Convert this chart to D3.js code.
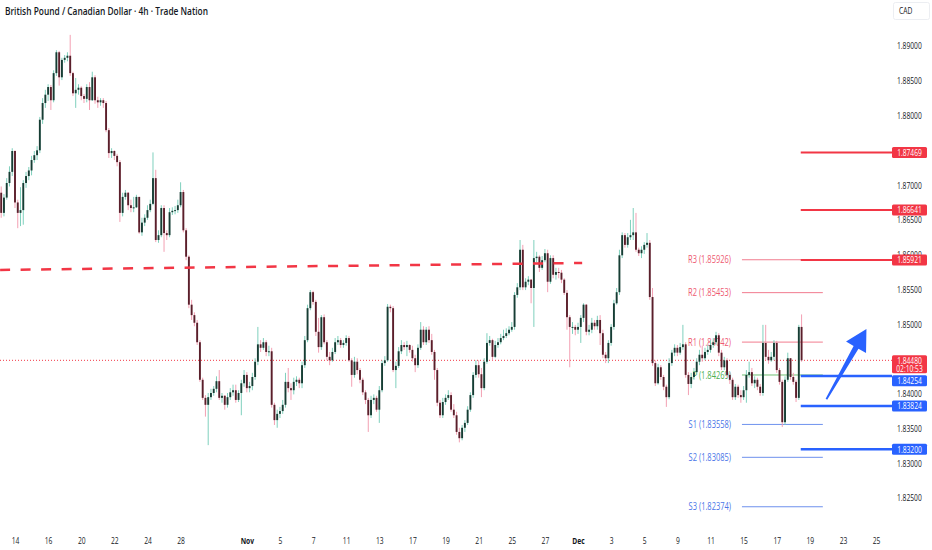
<!DOCTYPE html>
<html lang="en">
<head>
<meta charset="UTF-8">
<title>GBP/CAD 4h</title>
<script src="https://cdn.jsdelivr.net/npm/d3@7"></script>
<style>
    body { margin: 0; background: #fff; }
    svg { display: block; }
    text { font-family: "Open Sans", "Noto Sans", sans-serif; fill: #131722; }
</style>
</head>
<body>
<svg id="chart" width="932" height="550"></svg>
<script>
// ---- data: 4h candles, first bar opens at firstOpen, each next bar opens at previous close
const firstOpen = 1.8689;
const closes = [
    1.8660, 1.8682, 1.8703, 1.8719, 1.8749, 1.8675, 1.8660, 1.8664, 1.8703, 1.8713,
    1.8721, 1.8736, 1.8743, 1.8750, 1.8794, 1.8818, 1.8830, 1.8841, 1.8822, 1.8861,
    1.8891, 1.8855, 1.8880, 1.8883, 1.8886, 1.8861, 1.8832, 1.8837, 1.8840, 1.8828,
    1.8824, 1.8841, 1.8822, 1.8855, 1.8822, 1.8819, 1.8822, 1.8818, 1.8779, 1.8746,
    1.8749, 1.8742, 1.8733, 1.8660, 1.8683, 1.8689, 1.8671, 1.8667, 1.8668, 1.8683,
    1.8632, 1.8646, 1.8653, 1.8664, 1.8673, 1.8710, 1.8621, 1.8628, 1.8667, 1.8631,
    1.8628, 1.8661, 1.8663, 1.8664, 1.8671, 1.8690, 1.8635, 1.8597, 1.8528, 1.8513,
    1.8502, 1.8474, 1.8420, 1.8394, 1.8384, 1.8395, 1.8401, 1.8407, 1.8418, 1.8394,
    1.8397, 1.8384, 1.8395, 1.8402, 1.8405, 1.8391, 1.8401, 1.8415, 1.8427, 1.8408,
    1.8411, 1.8424, 1.8446, 1.8471, 1.8466, 1.8474, 1.8460, 1.8461, 1.8384, 1.8362,
    1.8371, 1.8375, 1.8384, 1.8417, 1.8408, 1.8405, 1.8417, 1.8420, 1.8415, 1.8441,
    1.8477, 1.8523, 1.8546, 1.8532, 1.8489, 1.8467, 1.8510, 1.8474, 1.8453, 1.8448,
    1.8460, 1.8474, 1.8477, 1.8470, 1.8473, 1.8480, 1.8448, 1.8427, 1.8446, 1.8434,
    1.8420, 1.8402, 1.8391, 1.8369, 1.8391, 1.8394, 1.8377, 1.8405, 1.8444, 1.8448,
    1.8525, 1.8523, 1.8434, 1.8440, 1.8461, 1.8470, 1.8467, 1.8470, 1.8463, 1.8451,
    1.8441, 1.8466, 1.8492, 1.8474, 1.8492, 1.8477, 1.8460, 1.8434, 1.8387, 1.8369,
    1.8388, 1.8394, 1.8398, 1.8377, 1.8369, 1.8345, 1.8336, 1.8351, 1.8358, 1.8377,
    1.8398, 1.8427, 1.8441, 1.8428, 1.8408, 1.8446, 1.8473, 1.8477, 1.8453, 1.8470,
    1.8474, 1.8480, 1.8483, 1.8487, 1.8492, 1.8496, 1.8542, 1.8553, 1.8607, 1.8553,
    1.8561, 1.8564, 1.8552, 1.8595, 1.8597, 1.8581, 1.8592, 1.8602, 1.8561, 1.8595,
    1.8571, 1.8575, 1.8574, 1.8564, 1.8545, 1.8510, 1.8496, 1.8496, 1.8492, 1.8496,
    1.8509, 1.8528, 1.8489, 1.8492, 1.8502, 1.8497, 1.8506, 1.8487, 1.8456, 1.8451,
    1.8473, 1.8496, 1.8530, 1.8546, 1.8599, 1.8628, 1.8614, 1.8625, 1.8628, 1.8632,
    1.8607, 1.8602, 1.8607, 1.8614, 1.8617, 1.8539, 1.8444, 1.8415, 1.8438, 1.8424,
    1.8410, 1.8395, 1.8444, 1.8459, 1.8466, 1.8459, 1.8467, 1.8471, 1.8427, 1.8414,
    1.8424, 1.8431, 1.8446, 1.8456, 1.8451, 1.8460, 1.8463, 1.8470, 1.8474, 1.8484,
    1.8459, 1.8438, 1.8448, 1.8427, 1.8420, 1.8395, 1.8410, 1.8398, 1.8395, 1.8405,
    1.8427, 1.8431, 1.8415, 1.8420, 1.8410, 1.8401, 1.8473, 1.8453, 1.8448, 1.8453,
    1.8473, 1.8434, 1.8417, 1.8359, 1.8420, 1.8451, 1.8424, 1.8417, 1.8394, 1.8496, 1.8448
];
const highs = [
    1.8698, 1.8687, 1.8710, 1.8727, 1.8753, 1.8750, 1.8679, 1.8697, 1.8707, 1.8719,
    1.8726, 1.8742, 1.8749, 1.8756, 1.8798, 1.8825, 1.8837, 1.8845, 1.8844, 1.8865,
    1.8894, 1.8893, 1.8883, 1.8887, 1.8891, 1.8916, 1.8863, 1.8854, 1.8845, 1.8842,
    1.8831, 1.8845, 1.8848, 1.8863, 1.8858, 1.8827, 1.8825, 1.8825, 1.8821, 1.8782,
    1.8753, 1.8750, 1.8745, 1.8736, 1.8689, 1.8693, 1.8690, 1.8679, 1.8683, 1.8686,
    1.8683, 1.8653, 1.8658, 1.8671, 1.8679, 1.8747, 1.8722, 1.8635, 1.8671, 1.8671,
    1.8635, 1.8667, 1.8668, 1.8670, 1.8679, 1.8704, 1.8693, 1.8638, 1.8599, 1.8535,
    1.8517, 1.8506, 1.8477, 1.8423, 1.8398, 1.8401, 1.8407, 1.8411, 1.8425, 1.8434,
    1.8401, 1.8398, 1.8401, 1.8408, 1.8413, 1.8413, 1.8405, 1.8420, 1.8434, 1.8431,
    1.8417, 1.8430, 1.8451, 1.8496, 1.8477, 1.8480, 1.8477, 1.8469, 1.8466, 1.8387,
    1.8377, 1.8381, 1.8391, 1.8430, 1.8437, 1.8415, 1.8423, 1.8425, 1.8423, 1.8446,
    1.8483, 1.8528, 1.8549, 1.8548, 1.8535, 1.8509, 1.8513, 1.8514, 1.8477, 1.8460,
    1.8466, 1.8480, 1.8483, 1.8480, 1.8477, 1.8484, 1.8483, 1.8451, 1.8453, 1.8451,
    1.8437, 1.8423, 1.8405, 1.8394, 1.8397, 1.8399, 1.8397, 1.8411, 1.8448, 1.8454,
    1.8529, 1.8528, 1.8526, 1.8446, 1.8467, 1.8477, 1.8474, 1.8476, 1.8471, 1.8469,
    1.8456, 1.8471, 1.8503, 1.8497, 1.8496, 1.8497, 1.8486, 1.8463, 1.8437, 1.8391,
    1.8394, 1.8399, 1.8405, 1.8402, 1.8385, 1.8374, 1.8351, 1.8355, 1.8362, 1.8382,
    1.8402, 1.8431, 1.8448, 1.8448, 1.8437, 1.8451, 1.8487, 1.8483, 1.8479, 1.8476,
    1.8480, 1.8486, 1.8492, 1.8494, 1.8497, 1.8503, 1.8546, 1.8559, 1.8621, 1.8614,
    1.8566, 1.8569, 1.8565, 1.8621, 1.8604, 1.8599, 1.8598, 1.8608, 1.8607, 1.8599,
    1.8599, 1.8581, 1.8581, 1.8578, 1.8566, 1.8549, 1.8513, 1.8503, 1.8499, 1.8502,
    1.8513, 1.8530, 1.8529, 1.8499, 1.8509, 1.8506, 1.8512, 1.8513, 1.8492, 1.8460,
    1.8477, 1.8500, 1.8535, 1.8552, 1.8607, 1.8632, 1.8631, 1.8631, 1.8650, 1.8667,
    1.8660, 1.8610, 1.8612, 1.8618, 1.8631, 1.8621, 1.8552, 1.8448, 1.8443, 1.8441,
    1.8427, 1.8413, 1.8451, 1.8463, 1.8471, 1.8470, 1.8473, 1.8499, 1.8474, 1.8431,
    1.8430, 1.8437, 1.8451, 1.8463, 1.8469, 1.8466, 1.8470, 1.8477, 1.8480, 1.8489,
    1.8487, 1.8463, 1.8453, 1.8451, 1.8431, 1.8423, 1.8414, 1.8413, 1.8405, 1.8411,
    1.8434, 1.8446, 1.8437, 1.8425, 1.8423, 1.8414, 1.8499, 1.8499, 1.8463, 1.8460,
    1.8477, 1.8476, 1.8437, 1.8420, 1.8425, 1.8459, 1.8451, 1.8430, 1.8420, 1.8499, 1.8514
];
const lows = [
    1.8653, 1.8655, 1.8679, 1.8698, 1.8713, 1.8667, 1.8638, 1.8641, 1.8643, 1.8696,
    1.8707, 1.8714, 1.8732, 1.8736, 1.8746, 1.8788, 1.8811, 1.8821, 1.8808, 1.8819,
    1.8857, 1.8843, 1.8851, 1.8876, 1.8878, 1.8857, 1.8828, 1.8811, 1.8830, 1.8822,
    1.8818, 1.8819, 1.8808, 1.8821, 1.8817, 1.8811, 1.8814, 1.8811, 1.8776, 1.8739,
    1.8739, 1.8736, 1.8727, 1.8647, 1.8655, 1.8679, 1.8664, 1.8661, 1.8661, 1.8667,
    1.8630, 1.8627, 1.8641, 1.8650, 1.8661, 1.8671, 1.8618, 1.8617, 1.8625, 1.8604,
    1.8621, 1.8625, 1.8657, 1.8658, 1.8660, 1.8668, 1.8632, 1.8592, 1.8523, 1.8506,
    1.8497, 1.8470, 1.8417, 1.8391, 1.8367, 1.8326, 1.8391, 1.8397, 1.8402, 1.8391,
    1.8387, 1.8377, 1.8380, 1.8391, 1.8397, 1.8387, 1.8388, 1.8369, 1.8410, 1.8402,
    1.8402, 1.8405, 1.8420, 1.8441, 1.8460, 1.8463, 1.8454, 1.8454, 1.8380, 1.8355,
    1.8351, 1.8365, 1.8371, 1.8380, 1.8402, 1.8391, 1.8399, 1.8411, 1.8408, 1.8408,
    1.8437, 1.8474, 1.8520, 1.8528, 1.8483, 1.8459, 1.8463, 1.8471, 1.8448, 1.8441,
    1.8446, 1.8457, 1.8470, 1.8466, 1.8466, 1.8469, 1.8446, 1.8410, 1.8423, 1.8428,
    1.8415, 1.8398, 1.8385, 1.8345, 1.8365, 1.8385, 1.8374, 1.8358, 1.8402, 1.8440,
    1.8446, 1.8517, 1.8431, 1.8408, 1.8437, 1.8457, 1.8463, 1.8454, 1.8459, 1.8446,
    1.8431, 1.8437, 1.8463, 1.8470, 1.8470, 1.8473, 1.8456, 1.8420, 1.8382, 1.8365,
    1.8365, 1.8384, 1.8391, 1.8374, 1.8365, 1.8341, 1.8330, 1.8333, 1.8345, 1.8355,
    1.8374, 1.8394, 1.8423, 1.8423, 1.8395, 1.8405, 1.8443, 1.8469, 1.8448, 1.8451,
    1.8466, 1.8471, 1.8477, 1.8480, 1.8484, 1.8489, 1.8492, 1.8538, 1.8549, 1.8549,
    1.8549, 1.8556, 1.8530, 1.8496, 1.8589, 1.8575, 1.8578, 1.8589, 1.8546, 1.8558,
    1.8566, 1.8564, 1.8566, 1.8559, 1.8542, 1.8492, 1.8438, 1.8486, 1.8484, 1.8486,
    1.8473, 1.8503, 1.8484, 1.8484, 1.8487, 1.8492, 1.8492, 1.8470, 1.8451, 1.8444,
    1.8444, 1.8469, 1.8492, 1.8528, 1.8542, 1.8595, 1.8610, 1.8610, 1.8621, 1.8621,
    1.8604, 1.8598, 1.8595, 1.8601, 1.8610, 1.8535, 1.8440, 1.8411, 1.8413, 1.8420,
    1.8405, 1.8381, 1.8392, 1.8440, 1.8454, 1.8454, 1.8456, 1.8463, 1.8423, 1.8398,
    1.8408, 1.8420, 1.8427, 1.8441, 1.8446, 1.8448, 1.8456, 1.8459, 1.8466, 1.8470,
    1.8454, 1.8434, 1.8434, 1.8423, 1.8414, 1.8391, 1.8391, 1.8394, 1.8387, 1.8391,
    1.8387, 1.8423, 1.8411, 1.8408, 1.8405, 1.8397, 1.8397, 1.8448, 1.8443, 1.8446,
    1.8448, 1.8430, 1.8413, 1.8352, 1.8355, 1.8417, 1.8420, 1.8413, 1.8388, 1.8391, 1.8446
];

// date labels, placed at bar index
const tickBars = [5, 17, 29, 41, 53, 65, 89, 101, 113, 125, 137, 149, 161, 173, 185, 197, 209, 221, 233, 245, 257, 269, 281, 293, 305, 317];
const tickLabels = ["14", "16", "20", "22", "24", "28", "Nov", "5", "7", "11", "13", "17", "19", "21", "25", "27", "Dec", "3", "5", "9", "11", "15", "17", "19", "23", "25"];
// 1.875 and 1.845 sit under the price tags, so the scale leaves them out
const priceTicks = [1.890, 1.885, 1.880, 1.870, 1.865, 1.860, 1.855, 1.850, 1.840, 1.835, 1.830, 1.825];

const pivotNames = ["R3", "R2", "R1", "P", "S1", "S2", "S3"];
const pivotValues = [1.85926, 1.85453, 1.84742, 1.84269, 1.83558, 1.83085, 1.82374];
const pivotFrom = 268.4, pivotTo = 297.7;

const resistanceLevels = [1.87469, 1.86641, 1.85921];
const supportLevels = [1.84254, 1.83824, 1.83200];
const levelFrom = 289.7;

const lastPrice = 1.84480;
const countdown = "02:10:53";

const trendBars = [-0.4, 210.5];
const trendPrices = [1.8578, 1.8588];

const arrowBars = [299, 313.5];
const arrowPrices = [1.8392, 1.8493];

// ---- layout
const plotRight = 892;
const red = "#f23645", blue = "#2962ff";

const svg = d3.select("#chart");
const x = d3.scaleLinear().domain([0, 317]).range([1.2, 876.1]);
const y = d3.scaleLinear().domain([1.825, 1.89]).range([498, 46]);

// the reference glyphs are horizontally compressed
function narrow(sel, f = 0.72) {
    sel.each(function () {
        const w = this.getComputedTextLength();
        this.setAttribute("textLength", w * f);
        this.setAttribute("lengthAdjust", "spacingAndGlyphs");
    });
}

// pivot points (under the candles)
const pivotColor = n => n[0] === "R" ? "#ee5a72" : n[0] === "S" ? "#4a76e8" : "#4caf50";
const piv = svg.append("g");
pivotNames.forEach((n, i) => {
    piv.append("line")
        .attr("x1", x(pivotFrom)).attr("x2", x(pivotTo))
        .attr("y1", y(pivotValues[i])).attr("y2", y(pivotValues[i]))
        .attr("stroke", pivotColor(n)).attr("stroke-opacity", 0.8).attr("stroke-width", 1);
    piv.append("text")
        .attr("x", x(pivotFrom) - 11).attr("y", y(pivotValues[i]))
        .attr("dy", "0.35em").attr("text-anchor", "end")
        .style("font-size", "10.4px").style("fill", pivotColor(n))
        .text(`${n} (${pivotValues[i].toFixed(5)})`)
        .call(narrow);
});

// current price dotted line
svg.append("line")
    .attr("x1", 0).attr("x2", plotRight)
    .attr("y1", y(lastPrice)).attr("y2", y(lastPrice))
    .attr("stroke", red).attr("stroke-width", 1).attr("stroke-dasharray", "1,2");

// candles
const candles = closes.map((c, i) => ({
    i, o: i === 0 ? firstOpen : closes[i - 1], c, h: highs[i], l: lows[i]
}));
const cg = svg.append("g").selectAll("g").data(candles).join("g");
cg.append("line")
    .attr("x1", d => x(d.i)).attr("x2", d => x(d.i))
    .attr("y1", d => y(d.h)).attr("y2", d => y(d.l))
    .attr("stroke", d => d.c >= d.o ? "#7fd0bd" : "#f3a0b3")
    .attr("stroke-width", 1);
cg.append("rect")
    .attr("x", d => x(d.i) - 0.95).attr("width", 1.9)
    .attr("y", d => y(Math.max(d.o, d.c)))
    .attr("height", d => Math.max(1, Math.abs(y(d.o) - y(d.c))))
    .attr("fill", d => d.c >= d.o ? "#173d34" : "#5a1f2b");

// dashed trend line
svg.append("line")
    .attr("x1", x(trendBars[0])).attr("y1", y(trendPrices[0]))
    .attr("x2", x(trendBars[1])).attr("y2", y(trendPrices[1]))
    .attr("stroke", red).attr("stroke-width", 2.5).attr("stroke-dasharray", "10,10.5");

// horizontal levels
resistanceLevels.forEach(v => {
    svg.append("line").attr("x1", x(levelFrom)).attr("x2", plotRight)
        .attr("y1", y(v)).attr("y2", y(v))
        .attr("stroke", red).attr("stroke-width", 2);
});
supportLevels.forEach(v => {
    svg.append("line").attr("x1", x(levelFrom)).attr("x2", plotRight)
        .attr("y1", y(v)).attr("y2", y(v))
        .attr("stroke", blue).attr("stroke-width", 2.5);
});

// arrow
const tx = x(arrowBars[0]), ty = y(arrowPrices[0]);
const px = x(arrowBars[1]), py = y(arrowPrices[1]);
const len = Math.hypot(px - tx, py - ty);
const ux = (px - tx) / len, uy = (py - ty) / len;
const nx = -uy, ny = ux;
const bx = px - ux * 21, by = py - uy * 21;
const pt = (ax, ay, w) => [ax + nx * w, ay + ny * w];
svg.append("polygon")
    .attr("points", [
        pt(tx, ty, 0.9), pt(bx, by, 2.8), pt(bx, by, 11.5), [px, py],
        pt(bx, by, -11.5), pt(bx, by, -2.8), pt(tx, ty, -0.9)
    ].map(p => p.join(",")).join(" "))
    .attr("fill", blue);

// price axis
svg.append("g")
    .attr("transform", "translate(897,0)")
    .call(d3.axisRight(y).tickValues(priceTicks).tickSize(0).tickPadding(0).tickFormat(d3.format(".5f")))
    .call(g => g.select(".domain").remove())
    .selectAll("text")
    .attr("fill", "#131722").style("font-size", "9.3px").style("font-family", "'Open Sans', sans-serif")
    .call(narrow);

// date axis
svg.append("g")
    .attr("transform", "translate(0,534)")
    .call(d3.axisBottom(x).tickValues(tickBars).tickSize(0).tickPadding(3).tickFormat((d, i) => tickLabels[i]))
    .call(g => g.select(".domain").remove())
    .selectAll("text")
    .attr("fill", "#131722").style("font-size", "9.3px").style("font-family", "'Open Sans', sans-serif")
    .style("font-weight", d => (d === 89 || d === 209) ? 700 : 400)
    .call(narrow);

// price tags
const curTop = y(lastPrice) - 5, curBottom = curTop + 18;
function tag(v, color, top) {
    svg.append("rect").attr("x", plotRight).attr("y", top).attr("width", 35).attr("height", 11)
        .attr("rx", 1.5).attr("fill", color);
    svg.append("text").attr("x", plotRight + 17.5).attr("y", top + 5.5).attr("dy", "0.35em")
        .attr("text-anchor", "middle").style("font-size", "9.3px").style("fill", "#fff")
        .text(v.toFixed(5)).call(narrow);
}
resistanceLevels.forEach(v => tag(v, red, y(v) - 5.5));
supportLevels.forEach(v => {
    let top = y(v) - 5.5;
    if (top < curBottom + 1 && top + 11 > curTop) top = curBottom + 2;
    tag(v, blue, top);
});
svg.append("rect").attr("x", plotRight).attr("y", curTop).attr("width", 35).attr("height", 18)
    .attr("rx", 1.5).attr("fill", red);
svg.append("text").attr("x", plotRight + 17.5).attr("y", y(lastPrice)).attr("dy", "0.35em")
    .attr("text-anchor", "middle").style("font-size", "9.3px").style("fill", "#fff")
    .text(lastPrice.toFixed(5)).call(narrow);
svg.append("text").attr("x", plotRight + 17.5).attr("y", y(lastPrice) + 8.5).attr("dy", "0.35em")
    .attr("text-anchor", "middle").style("font-size", "9.3px").style("fill", "#fff")
    .text(countdown).call(narrow);

// currency box
svg.append("rect").attr("x", 893.5).attr("y", 2.5).attr("width", 36).attr("height", 17)
    .attr("rx", 2).attr("fill", "#fff").attr("stroke", "#eceef2");
svg.append("text").attr("x", 899).attr("y", 11).attr("dy", "0.35em")
    .style("font-size", "9.3px").text("CAD").call(narrow);

// title
svg.append("text").attr("x", 5).attr("y", 11).attr("dy", "0.35em")
    .style("font-size", "11px").style("font-weight", 600)
    .text("British Pound / Canadian Dollar · 4h · Trade Nation").call(narrow, 0.76);
</script>
</body>
</html>
